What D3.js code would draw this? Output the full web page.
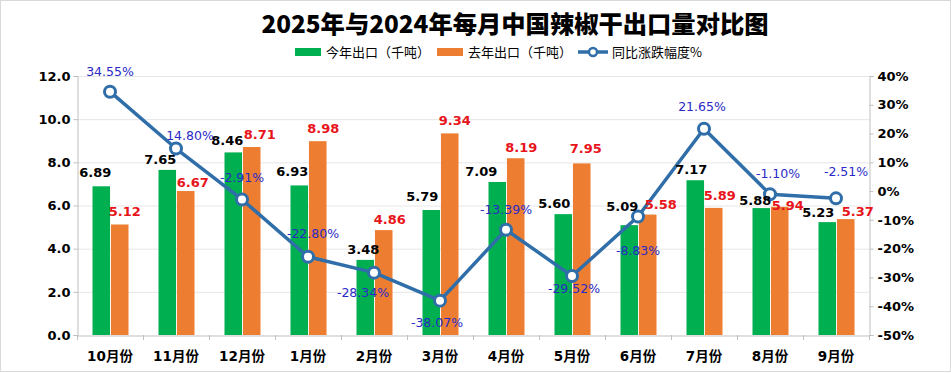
<!DOCTYPE html>
<html>
<head>
<meta charset="utf-8">
<script src="https://cdn.jsdelivr.net/npm/d3@7/dist/d3.min.js"></script>
<style>
  body { margin: 0; background: #fff; }
  svg { display: block; }
  text { font-family: "DejaVu Sans", "Noto Sans CJK SC", sans-serif; }
</style>
</head>
<body>
<div id="chart"></div>
<script>
// data
var months = ['10月份', '11月份', '12月份', '1月份', '2月份', '3月份', '4月份', '5月份', '6月份', '7月份', '8月份', '9月份'];
var thisYear = [6.89, 7.65, 8.46, 6.93, 3.48, 5.79, 7.09, 5.60, 5.09, 7.17, 5.88, 5.23];
var lastYear = [5.12, 6.67, 8.71, 8.98, 4.86, 9.34, 8.19, 7.95, 5.58, 5.89, 5.94, 5.37];
var change = [34.55, 14.80, -2.91, -22.80, -28.34, -38.07, -13.39, -29.52, -8.83, 21.65, -1.10, -2.51];
var leftTicks = [0, 2, 4, 6, 8, 10, 12];
var rightTicks = [-50, -40, -30, -20, -10, 0, 10, 20, 30, 40];
var seriesNames = ['今年出口（千吨）', '去年出口（千吨）', '同比涨跌幅度%'];

var W = 951, H = 373;
var GREEN = '#00b050', ORANGE = '#ed7d31', LINE = '#2f6ea8', PCT = '#2a2ac6';
var plot = {left: 77, right: 869, top: 76, bottom: 335};

// hand placed label offsets (dx from bar centre, gap above bar top)
var curDx = [-6, -7, -6, -7, -2, -9, -16, -9, -7, -4, -6, -9];
var curGap = [9, 6, 7, 9, 6, 9, 6, 6, 14, 6, 3, 5];
var prevDx = [5, 7, 8, 5.5, 6, 5, 5.5, 4, 13, 6, 8, 12];
var prevGap = [8, 4, 8, 8, 6, 8, 6, 10, 6, 8, -3, 3];
var pctNudge = [[0, -20], [14, -13], [0, -22], [5, -23], [-11, 20], [-3, 22],
	[0, -20], [2, 13], [0, 34], [-2, -22], [8, -21], [10, -27]];

var svg = d3.select('#chart').append('svg').attr('width', W).attr('height', H);

svg.append('rect')
	.attr('x', 0.5).attr('y', 0.5).attr('width', W - 1).attr('height', H - 2)
	.attr('fill', '#fff').attr('stroke', '#d9d9d9');

// title
svg.append('text')
	.attr('x', 515).attr('y', 33)
	.attr('text-anchor', 'middle')
	.style('font-family', '"Noto Sans CJK SC", sans-serif')
	.style('font-weight', '900').style('font-size', '24.3px')
	.text('2025年与2024年每月中国辣椒干出口量对比图');

// scales
var x0 = d3.scaleBand().domain(months).range([plot.left, plot.right]).padding(0);
var x1 = d3.scaleBand().domain(['cur', 'prev']).range([15.5, 51.5]).paddingInner(0.05);
var yL = d3.scaleLinear().domain([0, 12]).range([plot.bottom, plot.top]);
var yR = d3.scaleLinear().domain([-50, 40]).range([plot.bottom, plot.top]);

// gridlines
svg.append('g').selectAll('line').data(leftTicks.slice(1)).join('line')
	.attr('x1', plot.left).attr('x2', plot.right)
	.attr('y1', function (d) { return yL(d) + 0.5; })
	.attr('y2', function (d) { return yL(d) + 0.5; })
	.attr('stroke', '#e6e6e6');

// axes
var axL = svg.append('g').attr('transform', 'translate(' + (plot.left + 0.5) + ',0)')
	.call(d3.axisLeft(yL).tickValues(leftTicks).tickFormat(d3.format('.1f')).tickSize(4).tickPadding(3));
var axR = svg.append('g').attr('transform', 'translate(' + (plot.right + 0.5) + ',0)')
	.call(d3.axisRight(yR).tickValues(rightTicks).tickFormat(function (d) { return d + '%'; }).tickSize(4).tickPadding(4));
var axB = svg.append('g').attr('transform', 'translate(0,' + (plot.bottom + 0.5) + ')')
	.call(d3.axisBottom(x0).tickSize(0).tickPadding(16));

[axL, axR, axB].forEach(function (ax) {
	ax.select('.domain').attr('stroke', '#bfbfbf');
	ax.selectAll('.tick line').attr('stroke', '#bfbfbf');
	ax.selectAll('.tick text')
		.attr('fill', '#000')
		.style('font-weight', 'bold').style('font-size', '13px');
});
axB.selectAll('.tick text').style('font-size', '13.5px');

// category dividers on x axis
svg.append('g').selectAll('line').data(months.concat(['end'])).join('line')
	.attr('x1', function (d, i) { return Math.round(plot.left + i * x0.step()) + 0.5; })
	.attr('x2', function (d, i) { return Math.round(plot.left + i * x0.step()) + 0.5; })
	.attr('y1', plot.bottom).attr('y2', plot.bottom + 5)
	.attr('stroke', '#bfbfbf');

// bars
var groups = svg.append('g').selectAll('g').data(months).join('g')
	.attr('transform', function (d) { return 'translate(' + x0(d) + ',0)'; });

groups.append('rect')
	.attr('x', x1('cur')).attr('width', x1.bandwidth())
	.attr('y', function (d, i) { return yL(thisYear[i]); })
	.attr('height', function (d, i) { return yL(0) - yL(thisYear[i]); })
	.attr('fill', GREEN);
groups.append('rect')
	.attr('x', x1('prev')).attr('width', x1.bandwidth())
	.attr('y', function (d, i) { return yL(lastYear[i]); })
	.attr('height', function (d, i) { return yL(0) - yL(lastYear[i]); })
	.attr('fill', ORANGE);

// line
var cx = function (d, i) { return x0(months[i]) + x0.bandwidth() / 2; };
var line = d3.line().x(cx).y(function (d) { return yR(d); });

svg.append('path').datum(change)
	.attr('d', line)
	.attr('fill', 'none').attr('stroke', LINE).attr('stroke-width', 3.5)
	.attr('stroke-linejoin', 'round');

svg.append('g').selectAll('circle').data(change).join('circle')
	.attr('cx', cx).attr('cy', function (d) { return yR(d); })
	.attr('r', 5.5)
	.attr('fill', '#fff').attr('stroke', LINE).attr('stroke-width', 3);

// value labels sit on top of everything, as in the original
var labels = svg.append('g').selectAll('g').data(months).join('g')
	.attr('transform', function (d) { return 'translate(' + x0(d) + ',0)'; });

labels.append('text')
	.attr('x', function (d, i) { return x1('cur') + x1.bandwidth() / 2 + curDx[i]; })
	.attr('y', function (d, i) { return yL(thisYear[i]) - curGap[i]; })
	.attr('text-anchor', 'middle')
	.style('font-weight', 'bold').style('font-size', '13px')
	.attr('fill', '#000')
	.text(function (d, i) { return thisYear[i].toFixed(2); });
labels.append('text')
	.attr('x', function (d, i) { return x1('prev') + x1.bandwidth() / 2 + prevDx[i]; })
	.attr('y', function (d, i) { return yL(lastYear[i]) - prevGap[i]; })
	.attr('text-anchor', 'middle')
	.style('font-weight', 'bold').style('font-size', '13px')
	.attr('fill', '#e8141b')
	.text(function (d, i) { return lastYear[i].toFixed(2); });

// percent labels
svg.append('g').selectAll('text').data(change).join('text')
	.attr('x', function (d, i) { return cx(d, i) + pctNudge[i][0]; })
	.attr('y', function (d, i) { return yR(d) + pctNudge[i][1]; })
	.attr('dy', '0.35em')
	.attr('text-anchor', 'middle')
	.style('font-size', '12.5px')
	.attr('fill', PCT)
	.text(function (d) { return d.toFixed(2) + '%'; });

// legend
var legend = svg.append('g').attr('transform', 'translate(0,52)');
var lx = [295, 437, 578];
legend.append('rect').attr('x', lx[0]).attr('y', -4).attr('width', 26).attr('height', 8).attr('fill', GREEN);
legend.append('rect').attr('x', lx[1]).attr('y', -4).attr('width', 26).attr('height', 8).attr('fill', ORANGE);
legend.append('line').attr('x1', lx[2]).attr('x2', lx[2] + 30).attr('y1', 0).attr('y2', 0)
	.attr('stroke', LINE).attr('stroke-width', 3.5);
legend.append('circle').attr('cx', lx[2] + 15).attr('cy', 0).attr('r', 4)
	.attr('fill', '#fff').attr('stroke', LINE).attr('stroke-width', 2.5);
legend.selectAll('text.lg').data(seriesNames).join('text')
	.attr('class', 'lg')
	.attr('x', function (d, i) { return lx[i] + (i === 2 ? 34 : 31); })
	.attr('y', 0).attr('dy', '0.35em')
	.style('font-family', '"Noto Sans CJK SC", sans-serif')
	.style('font-size', '13px')
	.attr('fill', '#000')
	.text(function (d) { return d; });
</script>
</body>
</html>
